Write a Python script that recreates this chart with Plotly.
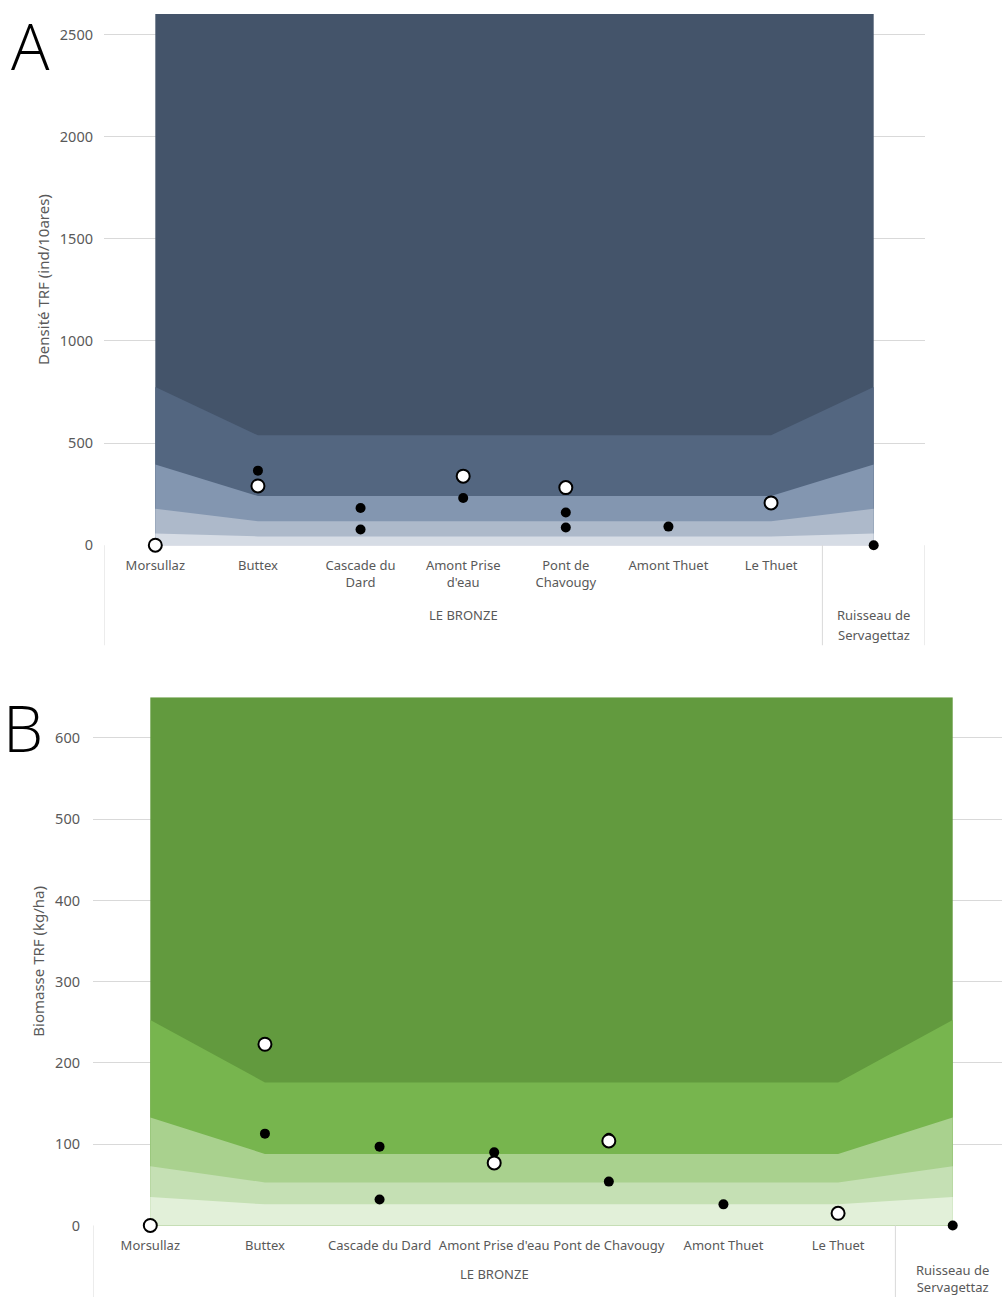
import plotly.graph_objects as go

# Sampling stations along the stream
categories = ["Morsullaz", "Buttex", "Cascade du Dard", "Amont Prise d'eau",
              "Pont de Chavougy", "Amont Thuet", "Le Thuet", "Ruisseau de Servagettaz"]
labels_top = ["Morsullaz", "Buttex", "Cascade du<br>Dard", "Amont Prise<br>d'eau",
              "Pont de<br>Chavougy", "Amont Thuet", "Le Thuet", ""]
labels_bottom = ["Morsullaz", "Buttex", "Cascade du Dard", "Amont Prise d'eau",
                 "Pont de Chavougy", "Amont Thuet", "Le Thuet", ""]

# Density class limits (ind/10ares), upper bound of each class
dens_c1 = [57, 43, 43, 43, 43, 43, 43, 57]
dens_c2 = [178, 117, 117, 117, 117, 117, 117, 178]
dens_c3 = [395, 241, 241, 241, 241, 241, 241, 395]
dens_c4 = [774, 538, 538, 538, 538, 538, 538, 774]
dens_c5 = [2600, 2600, 2600, 2600, 2600, 2600, 2600, 2600]

# Observed densities
dens_open = [0, 290, None, 338, 282, None, 207, None]
dens_black1 = [None, 365, 182, 231, 160, 91, None, 0]
dens_black2 = [None, None, 77, None, 87, None, None, None]

# Biomass class limits (kg/ha)
bio_c1 = [35, 26, 26, 26, 26, 26, 26, 35]
bio_c2 = [73, 53, 53, 53, 53, 53, 53, 73]
bio_c3 = [133, 88, 88, 88, 88, 88, 88, 133]
bio_c4 = [253, 176, 176, 176, 176, 176, 176, 253]
bio_c5 = [650, 650, 650, 650, 650, 650, 650, 650]

# Observed biomass
bio_open = [0, 223, None, 77, 104, None, 15, None]
bio_black1 = [None, 113, 97, 90, 108, 26, None, 0]
bio_black2 = [None, None, 32, None, 54, None, None, None]

blue_shades = ["#44546a", "#536680", "#8396b0", "#adb9ca", "#d6dce5"]
green_shades = ["#629a3e", "#77b54e", "#a9d18e", "#c5e0b4", "#e2f0d9"]

W, H = 1002, 1297
H_EFF = 1287.5  # vertical extent used to convert pixel positions into paper fractions
FONT = "Noto Sans"
GRAY = "#595959"
GRID = "#d9d9d9"

xs = list(range(len(categories)))
fig = go.Figure()


def add_panel(bounds, shades, black1, black2, opn, xa, ya):
    # class bands, drawn from the highest limit down so lower classes sit on top
    for vals, col in zip(bounds, shades):
        fig.add_trace(go.Scatter(x=xs, y=vals, mode="lines", line=dict(width=0),
                                 fill="tozeroy", fillcolor=col, xaxis=xa, yaxis=ya,
                                 hoverinfo="skip", showlegend=False))
    for ser in (black1, black2):
        fig.add_trace(go.Scatter(x=xs, y=ser, mode="markers", xaxis=xa, yaxis=ya,
                                 marker=dict(size=10, color="black"),
                                 cliponaxis=False, showlegend=False))
    fig.add_trace(go.Scatter(x=xs, y=opn, mode="markers", xaxis=xa, yaxis=ya,
                             marker=dict(size=13, color="white",
                                         line=dict(color="black", width=2)),
                             cliponaxis=False, showlegend=False))


add_panel([dens_c5, dens_c4, dens_c3, dens_c2, dens_c1], blue_shades,
          dens_black1, dens_black2, dens_open, "x", "y")
add_panel([bio_c5, bio_c4, bio_c3, bio_c2, bio_c1], green_shades,
          bio_black1, bio_black2, bio_open, "x2", "y2")


def px_x(p):
    return p / W


def px_y(p):
    return 1 - p / H_EFF


cat_font = dict(family=FONT, size=13, color=GRAY)
num_font = dict(family=FONT, size=14.5, color=GRAY)
title_font = dict(family=FONT, size=15, color=GRAY)

fig.update_layout(
    width=W, height=H, margin=dict(l=0, r=0, t=0, b=0),
    paper_bgcolor="white", plot_bgcolor="white", showlegend=False,
    xaxis=dict(domain=[px_x(104), px_x(925)], range=[-0.5, 7.5], anchor="y",
               tickvals=xs, ticktext=labels_top, tickfont=cat_font,
               ticklabelstandoff=11,
               showgrid=False, zeroline=False, showline=False, ticks=""),
    yaxis=dict(domain=[px_y(545), px_y(14)], range=[0, 2600], anchor="x",
               tickvals=[0, 500, 1000, 1500, 2000, 2500], tickfont=num_font,
               gridcolor=GRID, gridwidth=1, zeroline=False, showline=False,
               ticklabelstandoff=10,
               title=dict(text="Densité TRF (ind/10ares)", font=title_font,
                          standoff=6)),
    xaxis2=dict(domain=[px_x(93), 1.0], range=[-0.5, 7.43], anchor="y2",
                tickvals=xs, ticktext=labels_bottom, tickfont=cat_font,
                ticklabelstandoff=11,
                showgrid=False, zeroline=False, showline=False, ticks=""),
    yaxis2=dict(domain=[px_y(1225), px_y(697)], range=[0, 650], anchor="x2",
                tickvals=[0, 100, 200, 300, 400, 500, 600], tickfont=num_font,
                gridcolor=GRID, gridwidth=1, zeroline=False, showline=False,
                ticklabelstandoff=12,
                title=dict(text="Biomasse TRF (kg/ha)", font=title_font,
                           standoff=6)),
)

# category-axis frame lines below the plotting area
shapes = []
for xv in (-0.5, 6.5, 7.5):
    shapes.append(dict(type="line", xref="x", yref="paper", x0=xv, x1=xv,
                       y0=px_y(545), y1=px_y(645), line=dict(color=GRID, width=1)))
for xv in (-0.5, 6.5):
    shapes.append(dict(type="line", xref="x2", yref="paper", x0=xv, x1=xv,
                       y0=px_y(1225), y1=px_y(1300), line=dict(color=GRID, width=1)))
fig.update_layout(shapes=shapes)


def label(text, xref, x, ypix):
    return dict(text=text, xref=xref, yref="paper", x=x, y=px_y(ypix),
                yanchor="middle", showarrow=False, font=cat_font)


panel_font = dict(family="Open Sans", size=64, color="black", weight=300)
annotations = [
    label("LE BRONZE", "x", 3, 615),
    label("Ruisseau de", "x", 7, 615),
    label("Servagettaz", "x", 7, 635),
    label("LE BRONZE", "x2", 3, 1274),
    label("Ruisseau de<br>Servagettaz", "x2", 7, 1278),
    dict(text="A", xref="paper", yref="paper", x=px_x(9), y=1.0,
         xanchor="left", yanchor="top", showarrow=False, font=panel_font),
    dict(text="B", xref="paper", yref="paper", x=px_x(1), y=px_y(682),
         xanchor="left", yanchor="top", showarrow=False, font=panel_font),
]
fig.update_layout(annotations=annotations)

fig.write_html("out.html")
